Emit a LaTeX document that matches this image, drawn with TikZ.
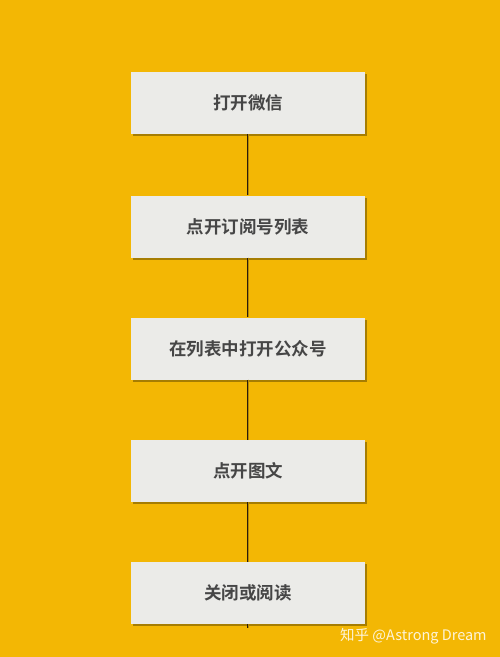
\documentclass[tikz,border=0pt]{standalone}
\usepackage{fontspec}
\newfontfamily\cjk{Noto Sans CJK SC}
\newfontfamily\cjkb{Noto Sans CJK SC Bold}
\usetikzlibrary{shadows}
\definecolor{bg}{HTML}{F3B704}
\definecolor{boxfill}{HTML}{EBEBE8}
\definecolor{txt}{HTML}{464646}
\definecolor{linec}{HTML}{2A1C0A}
\tikzset{
  stepbox/.style={draw=none, fill=boxfill, minimum width=234pt, minimum height=62pt,
    inner sep=0pt, font=\cjkb\fontsize{17.5pt}{19pt}\selectfont, text=txt,
    drop shadow={opacity=0.45, shadow xshift=1.5pt, shadow yshift=-2pt, fill=black!70!bg}},
  conn/.style={draw=linec, line width=0.8pt, double=bg!75!black, double distance=1pt}
}
\begin{document}
\begin{tikzpicture}[x=1pt,y=-1pt]
\fill[bg] (0,0) rectangle (500,657);
\useasboundingbox (0,0) rectangle (500,657);
\node[stepbox] (s1) at (248,103) {打开微信};
\node[stepbox] (s2) at (248,226.5) {点开订阅号列表};
\node[stepbox] (s3) at (248,348.5) {在列表中打开公众号};
\node[stepbox] (s4) at (248,471) {点开图文};
\node[stepbox] (s5) at (248,593) {关闭或阅读};
\coordinate (e) at (248,628);
\draw[conn] (s1.south) -- (s2.north);
\draw[conn] (s2.south) -- (s3.north);
\draw[conn] (s3.south) -- (s4.north);
\draw[conn] (s4.south) -- (s5.north);
\draw[conn] (s5.south) -- (e);
\node[anchor=west, inner sep=0pt, text=white, opacity=0.85, font=\cjk\fontsize{14.5pt}{16pt}\selectfont] (wm) at (340,636) {知乎 @Astrong Dream};
\end{tikzpicture}
\end{document}
